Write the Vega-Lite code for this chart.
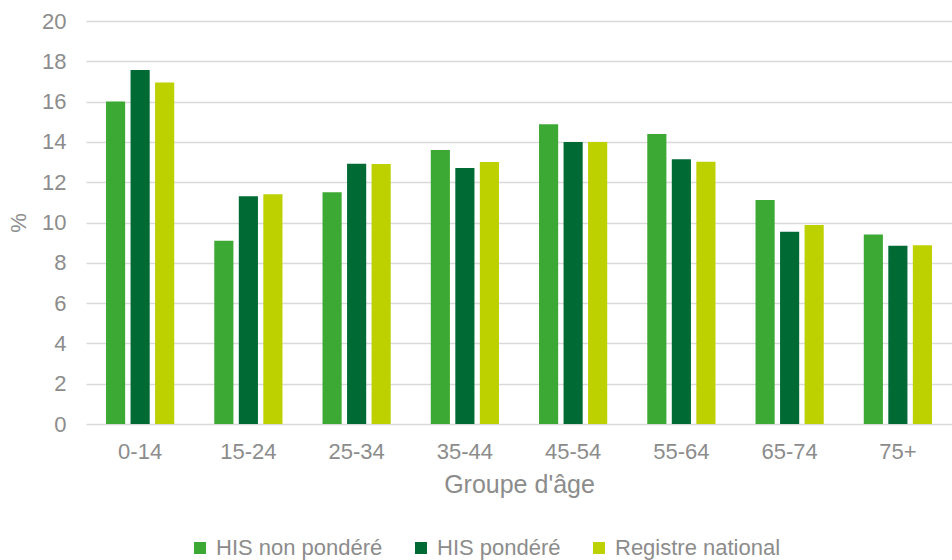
{
  "$schema": "https://vega.github.io/schema/vega-lite/v6.json",
  "width": 866,
  "height": 403,
  "autosize": {"type": "none"},
  "padding": {"left": 86, "top": 21, "right": 0, "bottom": 136},
  "background": "white",
  "config": {
    "view": {"stroke": null},
    "font": "Liberation Sans"
  },
  "data": {
    "values": [
      {"groupe": "0-14", "serie": "HIS non pondéré", "pct": 16.0},
      {"groupe": "0-14", "serie": "HIS pondéré", "pct": 17.57},
      {"groupe": "0-14", "serie": "Registre national", "pct": 16.95},
      {"groupe": "15-24", "serie": "HIS non pondéré", "pct": 9.1},
      {"groupe": "15-24", "serie": "HIS pondéré", "pct": 11.3},
      {"groupe": "15-24", "serie": "Registre national", "pct": 11.4},
      {"groupe": "25-34", "serie": "HIS non pondéré", "pct": 11.5},
      {"groupe": "25-34", "serie": "HIS pondéré", "pct": 12.92},
      {"groupe": "25-34", "serie": "Registre national", "pct": 12.9},
      {"groupe": "35-44", "serie": "HIS non pondéré", "pct": 13.6},
      {"groupe": "35-44", "serie": "HIS pondéré", "pct": 12.7},
      {"groupe": "35-44", "serie": "Registre national", "pct": 13.0},
      {"groupe": "45-54", "serie": "HIS non pondéré", "pct": 14.87},
      {"groupe": "45-54", "serie": "HIS pondéré", "pct": 14.0},
      {"groupe": "45-54", "serie": "Registre national", "pct": 14.0},
      {"groupe": "55-64", "serie": "HIS non pondéré", "pct": 14.39},
      {"groupe": "55-64", "serie": "HIS pondéré", "pct": 13.14},
      {"groupe": "55-64", "serie": "Registre national", "pct": 13.02},
      {"groupe": "65-74", "serie": "HIS non pondéré", "pct": 11.12},
      {"groupe": "65-74", "serie": "HIS pondéré", "pct": 9.54},
      {"groupe": "65-74", "serie": "Registre national", "pct": 9.88},
      {"groupe": "75+", "serie": "HIS non pondéré", "pct": 9.41},
      {"groupe": "75+", "serie": "HIS pondéré", "pct": 8.85},
      {"groupe": "75+", "serie": "Registre national", "pct": 8.87}
    ]
  },
  "mark": {"type": "bar"},
  "encoding": {
    "x": {
      "field": "groupe",
      "type": "nominal",
      "sort": ["0-14", "15-24", "25-34", "35-44", "45-54", "55-64", "65-74", "75+"],
      "scale": {"paddingInner": 0.37, "paddingOuter": 0.185},
      "axis": {
        "title": "Groupe d'âge",
        "labelAngle": 0,
        "labelFontSize": 22,
        "labelColor": "#8c8c8c",
        "labelPadding": 17,
        "ticks": false,
        "tickSize": 0,
        "domain": false,
        "titleFontSize": 25,
        "titleFontWeight": "normal",
        "titleColor": "#8c8c8c",
        "titlePadding": 10
      }
    },
    "xOffset": {
      "field": "serie",
      "type": "nominal",
      "sort": ["HIS non pondéré", "HIS pondéré", "Registre national"],
      "scale": {"paddingInner": 0.22, "paddingOuter": 0}
    },
    "y": {
      "field": "pct",
      "type": "quantitative",
      "scale": {"domain": [0, 20], "nice": false},
      "axis": {
        "title": "%",
        "values": [0, 2, 4, 6, 8, 10, 12, 14, 16, 18, 20],
        "labelFontSize": 22,
        "labelColor": "#8c8c8c",
        "labelPadding": 20,
        "ticks": false,
        "tickSize": 0,
        "domain": false,
        "grid": true,
        "gridColor": "#d9d9d9",
        "gridWidth": 1.5,
        "titleFontSize": 22,
        "titleFontWeight": "normal",
        "titleColor": "#8c8c8c",
        "titlePadding": 11
      }
    },
    "color": {
      "field": "serie",
      "type": "nominal",
      "sort": ["HIS non pondéré", "HIS pondéré", "Registre national"],
      "scale": {
        "domain": ["HIS non pondéré", "HIS pondéré", "Registre national"],
        "range": ["#3DA935", "#006A34", "#BDD000"]
      },
      "legend": {
        "title": null,
        "orient": "none",
        "direction": "horizontal",
        "legendX": 103,
        "legendY": 516,
        "symbolType": "square",
        "symbolSize": 144,
        "symbolStrokeWidth": 0,
        "labelFontSize": 22,
        "labelColor": "#8c8c8c",
        "labelOffset": 5,
        "labelLimit": 0,
        "columnPadding": 27
      }
    }
  }
}
